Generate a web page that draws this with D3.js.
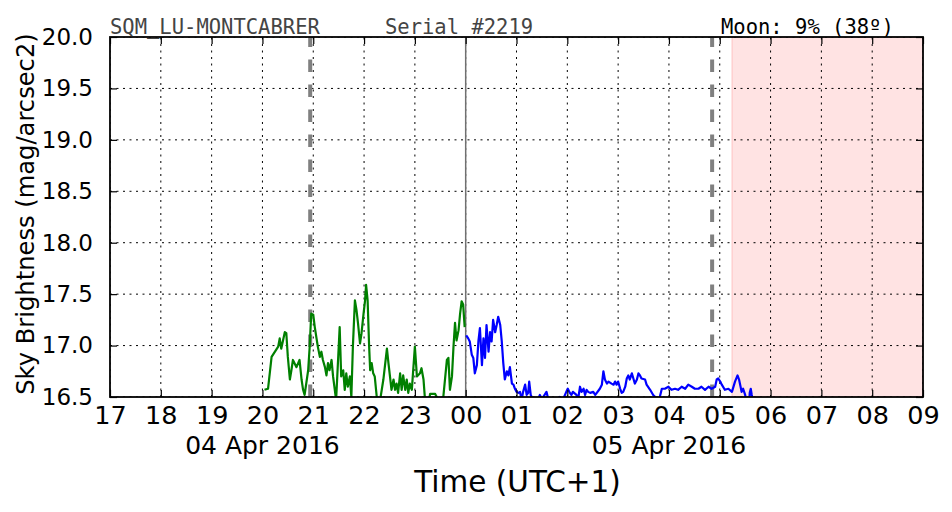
<!DOCTYPE html>
<html><head><meta charset="utf-8">
<script src="https://cdn.jsdelivr.net/npm/d3@7"></script>
<style>body{margin:0;background:#fff}svg{display:block}</style>
</head><body>
<script>
// Hours since 04 Apr 2016 00:00 (local UTC+1)
const greenHours = [20.04,20.11,20.18,20.31,20.34,20.37,20.44,20.47,20.50,20.54,20.57,20.60,20.67,20.73,20.77,20.80,20.83,20.90,20.93,20.96,21.00,21.03,21.09,21.13,21.16,21.19,21.23,21.26,21.29,21.32,21.36,21.39,21.45,21.52,21.55,21.59,21.62,21.65,21.68,21.72,21.75,21.78,21.82,21.85,21.88,21.92,21.95,21.99,22.02,22.04,22.07,22.10,22.12,22.15,22.18,22.21,22.25,22.31,22.38,22.45,22.48,22.51,22.54,22.58,22.61,22.64,22.67,22.71,22.74,22.77,22.81,22.84,22.87,22.90,22.94,23.00,23.04,23.10,23.13,23.17,23.20,23.25,23.30,23.40,23.46,23.54,23.63,23.66,23.69,23.73,23.76,23.79,23.82,23.86,23.89,23.92,23.95,23.98];
const greenMag   = [16.57,16.58,16.89,16.99,17.07,16.97,17.13,17.12,16.89,16.67,16.76,16.86,16.79,16.86,16.67,16.57,16.52,16.76,16.99,17.31,17.30,17.18,16.99,16.89,16.94,16.86,16.79,16.71,16.83,16.76,16.86,16.70,16.47,17.18,16.70,16.76,16.57,16.73,16.60,16.70,16.50,16.99,17.44,17.35,17.22,17.02,17.12,17.31,17.44,17.59,17.44,16.99,16.76,16.83,16.73,16.70,16.50,16.45,16.67,16.97,16.83,16.70,16.57,16.67,16.57,16.63,16.54,16.73,16.57,16.71,16.57,16.67,16.54,16.63,16.57,16.99,16.70,16.73,16.78,16.67,16.47,16.40,16.53,16.53,16.47,16.40,16.86,16.88,16.57,16.70,16.99,17.22,17.05,17.15,17.31,17.43,17.40,17.18];
const blueHours  = [24.01,24.05,24.08,24.12,24.15,24.18,24.22,24.25,24.28,24.32,24.35,24.38,24.41,24.45,24.48,24.51,24.54,24.58,24.61,24.64,24.68,24.71,24.74,24.77,24.81,24.84,24.87,24.91,24.94,24.97,25.00,25.04,25.07,25.10,25.13,25.17,25.20,25.23,25.25,25.28,25.33,25.40,25.46,25.50,25.59,25.63,25.72,25.78,25.85,25.91,25.98,26.01,26.05,26.08,26.11,26.18,26.21,26.25,26.28,26.32,26.35,26.38,26.41,26.45,26.51,26.55,26.64,26.68,26.71,26.74,26.78,26.81,26.87,26.91,26.94,26.97,27.00,27.04,27.07,27.10,27.14,27.17,27.20,27.23,27.27,27.30,27.33,27.37,27.40,27.43,27.46,27.53,27.56,27.63,27.69,27.73,27.78,27.82,27.86,27.92,27.99,28.05,28.12,28.18,28.25,28.32,28.38,28.45,28.51,28.58,28.64,28.71,28.78,28.84,28.91,28.94,28.97,29.01,29.04,29.10,29.17,29.24,29.30,29.35,29.38,29.41,29.43,29.46,29.50,29.53,29.58,29.59,29.61,29.63,29.66];
const blueMag    = [17.10,17.07,17.04,16.91,16.88,16.73,16.81,17.04,17.17,16.81,17.07,16.88,17.20,16.94,17.13,17.04,17.25,17.13,17.20,17.28,17.20,17.04,16.83,16.67,16.75,16.71,16.79,16.63,16.62,16.58,16.55,16.54,16.55,16.47,16.55,16.62,16.52,16.54,16.65,16.52,16.47,16.45,16.52,16.48,16.55,16.47,16.46,16.47,16.50,16.47,16.55,16.58,16.54,16.52,16.55,16.52,16.47,16.60,16.55,16.58,16.52,16.57,16.55,16.54,16.55,16.52,16.58,16.62,16.75,16.67,16.63,16.65,16.63,16.62,16.65,16.62,16.65,16.58,16.54,16.55,16.60,16.68,16.71,16.67,16.73,16.68,16.63,16.67,16.73,16.71,16.68,16.67,16.62,16.57,16.52,16.50,16.46,16.50,16.58,16.58,16.60,16.57,16.58,16.57,16.60,16.58,16.62,16.60,16.58,16.58,16.60,16.57,16.60,16.58,16.60,16.67,16.68,16.65,16.62,16.57,16.58,16.55,16.65,16.71,16.67,16.60,16.55,16.58,16.52,16.45,16.45,16.54,16.58,16.52,16.45];
const yTicks = [16.5,17.0,17.5,18.0,18.5,19.0,19.5,20.0];
const twilightHours = [20.94, 28.85];   // dashed lines
const midnightHour = 24;
const dayShadeHours = [29.24, 33];
const dateLabelHours = [20, 28];
const stationName = "SQM_LU-MONTCABRER";
const serialText = "Serial #2219";
const moonText = "Moon: 9% (38º)";
const yLabel = "Sky Brightness (mag/arcsec2)";
const xLabel = "Time (UTC+1)";

const W = 952, H = 512;
const m = {left:110, right:29, top:37, bottom:115};
const base = new Date(2016, 3, 4, 0, 0, 0);
const toDate = h => new Date(base.getTime() + h*3600e3);

const svg = d3.select("body").append("svg").attr("width", W).attr("height", H);
const x = d3.scaleTime().domain([toDate(17), toDate(33)]).range([m.left, W - m.right]);
const y = d3.scaleLinear().domain([16.5, 20]).range([H - m.bottom, m.top]);
const x0 = m.left, x1 = W - m.right, y0 = H - m.bottom, y1 = m.top;

svg.append("defs").append("clipPath").attr("id","clip").append("rect")
  .attr("x", x0).attr("y", y1).attr("width", x1 - x0).attr("height", y0 - y1);

const plot = svg.append("g").attr("clip-path","url(#clip)");

// day shade
plot.append("rect")
  .attr("x", x(toDate(dayShadeHours[0]))).attr("y", y1)
  .attr("width", x(toDate(dayShadeHours[1])) - x(toDate(dayShadeHours[0])))
  .attr("height", y0 - y1)
  .attr("fill", "rgba(255,0,0,0.11)").attr("stroke","rgba(255,0,0,0.12)").attr("stroke-width",1.5);

const hourTicks = d3.timeHour.range(toDate(17), toDate(33.01));

// grid
plot.append("g").selectAll("line").data(hourTicks).join("line")
  .attr("x1", d => x(d)).attr("x2", d => x(d)).attr("y1", y0).attr("y2", y1)
  .attr("stroke","#000").attr("stroke-width",1).attr("stroke-dasharray","2,4.5");
plot.append("g").selectAll("line").data(yTicks).join("line")
  .attr("y1", d => y(d)).attr("y2", d => y(d)).attr("x1", x0).attr("x2", x1)
  .attr("stroke","#000").attr("stroke-width",1).attr("stroke-dasharray","2,4.5");

// twilight dashed lines
plot.append("g").selectAll("line").data(twilightHours).join("line")
  .attr("x1", d => x(toDate(d))).attr("x2", d => x(toDate(d))).attr("y1", y0).attr("y2", y1)
  .attr("stroke","#808080").attr("stroke-width",4).attr("stroke-dasharray","12.5,12.5");
// midnight line
plot.append("line")
  .attr("x1", x(toDate(midnightHour))).attr("x2", x(toDate(midnightHour))).attr("y1", y0).attr("y2", y1)
  .attr("stroke","#707070").attr("stroke-width",1.5);

const line = d3.line().x(d => x(toDate(d[0]))).y(d => y(d[1]));
plot.append("path").datum(d3.zip(greenHours, greenMag))
  .attr("d", line).attr("fill","none").attr("stroke","#008000").attr("stroke-width",2.2).attr("stroke-linejoin","round");
plot.append("path").datum(d3.zip(blueHours, blueMag))
  .attr("d", line).attr("fill","none").attr("stroke","#0000ff").attr("stroke-width",2.2).attr("stroke-linejoin","round");

// axes
const xfs = 25.5, yfs = 23;
const xAxis = d3.axisBottom(x).tickValues(hourTicks).tickFormat(d3.timeFormat("%H")).tickSizeInner(-7).tickSizeOuter(0).tickPadding(9);
const gx = svg.append("g").attr("transform", `translate(0,${y0})`).call(xAxis);
const xAxisTop = d3.axisTop(x).tickValues(hourTicks).tickFormat("").tickSizeInner(-7).tickSizeOuter(0);
const gxt = svg.append("g").attr("transform", `translate(0,${y1})`).call(xAxisTop);
const yAxis = d3.axisLeft(y).tickValues(yTicks).tickFormat(d3.format(".1f")).tickSizeInner(-7).tickSizeOuter(0).tickPadding(17);
const gy = svg.append("g").attr("transform", `translate(${x0},0)`).call(yAxis);
const yAxisR = d3.axisRight(y).tickValues(yTicks).tickFormat("").tickSizeInner(-7).tickSizeOuter(0);
const gyr = svg.append("g").attr("transform", `translate(${x1},0)`).call(yAxisR);
[gx,gxt,gy,gyr].forEach(g => {
  g.select(".domain").remove();
  g.selectAll(".tick line").attr("stroke","#000").attr("stroke-width",1.2);
  g.selectAll("text").attr("font-family","DejaVu Sans").attr("fill","#000");
});
gx.selectAll("text").attr("font-size", xfs);
gy.selectAll("text").attr("font-size", yfs);

// frame
svg.append("rect").attr("x",x0).attr("y",y1).attr("width",x1-x0).attr("height",y0-y1)
  .attr("fill","none").attr("stroke","#000").attr("stroke-width",1.8);

// date labels
svg.append("g").selectAll("text").data(dateLabelHours).join("text")
  .attr("x", d => x(toDate(d))).attr("y", 454).attr("text-anchor","middle")
  .attr("font-family","DejaVu Sans").attr("font-size",25).text(d => d3.timeFormat("%d %b %Y")(toDate(d)));

svg.append("text").attr("x", (x0+x1)/2 + 1).attr("y", 492).attr("text-anchor","middle")
  .attr("font-family","DejaVu Sans").attr("font-size",29.5).text(xLabel);

svg.append("text").attr("transform", `translate(34,${(y0+y1)/2 - 3}) rotate(-90)`).attr("text-anchor","middle")
  .attr("font-family","DejaVu Sans").attr("font-size",24.2).text(yLabel);

// header
svg.append("text").attr("x",110).attr("y",33.5).attr("font-family","DejaVu Sans Mono").attr("font-size",20.5).attr("fill","#444").text(stationName);
svg.append("text").attr("x",385).attr("y",33.5).attr("font-family","DejaVu Sans Mono").attr("font-size",20.5).attr("fill","#444").text(serialText);
svg.append("text").attr("x",721).attr("y",33.5).attr("font-family","DejaVu Sans Mono").attr("font-size",20.5).attr("fill","#000").text(moonText);
</script>
</body></html>
